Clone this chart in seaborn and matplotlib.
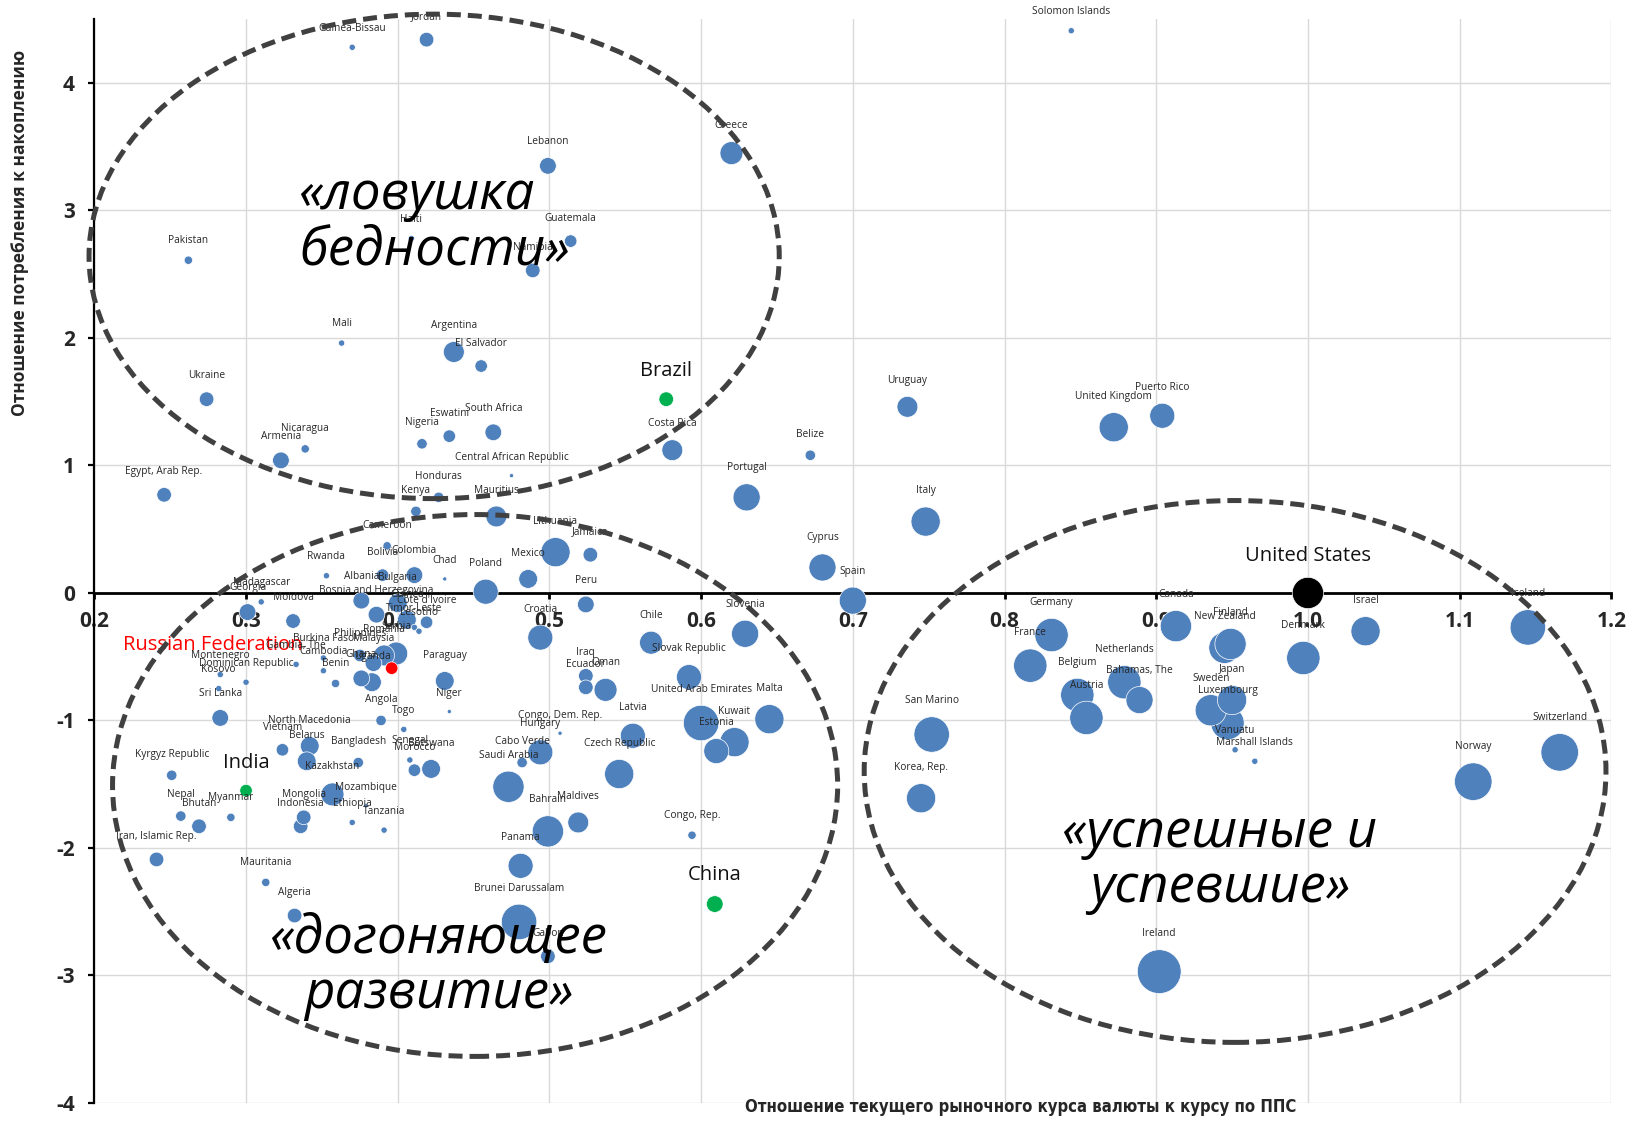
import numpy as np
import pandas as pd
import matplotlib
matplotlib.use("Agg")
import matplotlib.pyplot as plt
import seaborn as sns
from matplotlib.patches import Ellipse

# ---------------- data ----------------
countries = [
    "Solomon Islands", "Guinea-Bissau", "Jordan", "Lebanon", "Greece", "Guatemala", "Haiti",
    "Namibia", "Pakistan", "Mali", "Argentina", "El Salvador", "Ukraine", "Brazil", "Uruguay",
    "United Kingdom", "Puerto Rico", "Belize", "Costa Rica", "South Africa", "Eswatini", "Nigeria",
    "Central African Republic", "Nicaragua", "Armenia", "Egypt, Arab Rep.", "Honduras", "Kenya",
    "Mauritius", "Cameroon", "Lithuania", "Jamaica", "Mexico", "Peru", "Poland", "Chad",
    "Colombia", "Bolivia", "Rwanda", "Albania", "Bulgaria", "Bosnia and Herzegovina", "Guinea",
    "Paraguay", "Cote d'Ivoire", "Timor-Leste", "Lesotho", "Serbia", "Romania", "Malaysia",
    "Philippines", "Uganda", "Ghana", "Russian Federation", "Gambia, The", "Burkina Faso",
    "Cambodia", "Benin", "Montenegro", "Dominican Republic", "Kosovo", "Niger", "Sri Lanka",
    "Kyrgyz Republic", "Myanmar", "Nepal", "Bhutan", "India", "Iran, Islamic Rep.", "Mauritania",
    "Algeria", "Indonesia", "Mongolia", "Vietnam", "North Macedonia", "Belarus", "Bangladesh",
    "Kazakhstan", "Mozambique", "Ethiopia", "Tanzania", "Angola", "Togo", "Senegal", "Morocco",
    "Botswana", "Croatia", "Chile", "Slovak Republic", "Iraq", "Ecuador", "Oman",
    "United Arab Emirates", "Estonia", "Kuwait", "Malta", "Latvia", "Czech Republic",
    "Congo, Dem. Rep.", "Hungary", "Cabo Verde", "Saudi Arabia", "Bahrain", "Maldives", "Panama",
    "Brunei Darussalam", "Gabon", "Congo, Rep.", "China", "Portugal", "Italy", "Cyprus", "Spain",
    "Slovenia", "Canada", "Germany", "France", "Belgium", "Austria", "Netherlands", "Bahamas, The",
    "New Zealand", "Finland", "Japan", "Sweden", "Luxembourg", "Vanuatu", "Marshall Islands",
    "Denmark", "United States", "Israel", "Iceland", "Switzerland", "Norway", "San Marino",
    "Korea, Rep.", "Ireland", "Madagascar", "Georgia", "Moldova",
]

fx_to_ppp = [
    0.844, 0.370, 0.419, 0.499, 0.620, 0.514, 0.409,
    0.489, 0.262, 0.363, 0.437, 0.455, 0.274, 0.577, 0.736,
    0.872, 0.904, 0.672, 0.581, 0.463, 0.434, 0.416,
    0.475, 0.339, 0.323, 0.246, 0.427, 0.412,
    0.465, 0.393, 0.504, 0.527, 0.486, 0.524, 0.458, 0.431,
    0.411, 0.390, 0.353, 0.376, 0.400, 0.386, 0.406,
    0.431, 0.419, 0.411, 0.414, 0.399, 0.391, 0.384,
    0.375, 0.383, 0.376, 0.396, 0.333, 0.351,
    0.351, 0.359, 0.283, 0.300, 0.282, 0.434, 0.283,
    0.251, 0.290, 0.257, 0.269, 0.300, 0.241, 0.313,
    0.332, 0.336, 0.338, 0.324, 0.342, 0.340, 0.374,
    0.357, 0.379, 0.370, 0.391, 0.389, 0.404, 0.408, 0.411,
    0.422, 0.494, 0.567, 0.592, 0.524, 0.524, 0.537,
    0.600, 0.610, 0.622, 0.645, 0.555, 0.546,
    0.507, 0.494, 0.482, 0.473, 0.499, 0.519, 0.481,
    0.480, 0.499, 0.594, 0.609, 0.630, 0.748, 0.680, 0.700,
    0.629, 0.913, 0.831, 0.817, 0.848, 0.854, 0.879, 0.889,
    0.945, 0.949, 0.950, 0.936, 0.947, 0.952, 0.965,
    0.997, 1.000, 1.038, 1.145, 1.166, 1.109, 0.752,
    0.745, 0.902, 0.310, 0.301, 0.331,
]

cons_to_inv = [
    4.41, 4.28, 4.34, 3.35, 3.45, 2.76, 2.78,
    2.53, 2.61, 1.96, 1.89, 1.78, 1.52, 1.52, 1.46,
    1.30, 1.39, 1.08, 1.12, 1.26, 1.23, 1.17,
    0.92, 1.13, 1.04, 0.77, 0.75, 0.64,
    0.60, 0.37, 0.32, 0.30, 0.11, -0.09, 0.01, 0.11,
    0.14, 0.14, 0.135, -0.06, -0.08, -0.17, -0.21,
    -0.69, -0.23, -0.27, -0.30, -0.475, -0.49, -0.55,
    -0.49, -0.70, -0.67, -0.59, -0.56, -0.51,
    -0.61, -0.71, -0.64, -0.70, -0.75, -0.93, -0.98,
    -1.43, -1.76, -1.75, -1.83, -1.55, -2.09, -2.27,
    -2.53, -1.83, -1.76, -1.23, -1.20, -1.32, -1.33,
    -1.58, -1.67, -1.80, -1.86, -1.00, -1.07, -1.31, -1.39,
    -1.38, -0.35, -0.39, -0.66, -0.65, -0.74, -0.76,
    -1.02, -1.24, -1.17, -0.99, -1.12, -1.42,
    -1.10, -1.25, -1.33, -1.52, -1.87, -1.80, -2.14,
    -2.58, -2.85, -1.90, -2.44, 0.75, 0.56, 0.20, -0.06,
    -0.32, -0.26, -0.33, -0.57, -0.80, -0.98, -0.70, -0.84,
    -0.43, -0.40, -0.84, -0.92, -1.02, -1.23, -1.32,
    -0.51, 0.00, -0.30, -0.27, -1.25, -1.48, -1.11,
    -1.61, -2.97, -0.07, -0.15, -0.22,
]

bubble_value = [
    9, 9, 49, 64, 121, 36, 9,
    49, 16, 9, 100, 36, 49, 49, 100,
    196, 144, 25, 100, 64, 36, 25,
    4, 16, 64, 49, 25, 25,
    100, 16, 196, 49, 81, 64, 144, 4,
    64, 36, 9, 64, 81, 64, 81,
    81, 36, 9, 9, 121, 100, 64,
    36, 81, 64, 36, 9, 9,
    9, 16, 9, 9, 9, 4, 64,
    25, 16, 25, 49, 36, 49, 16,
    49, 49, 49, 36, 81, 81, 25,
    121, 4, 9, 9, 25, 9, 9, 36,
    81, 144, 121, 144, 49, 49, 121,
    289, 144, 196, 196, 144, 196,
    4, 144, 25, 225, 225, 100, 144,
    289, 49, 16, 64, 169, 196, 169, 169,
    169, 225, 256, 256, 256, 256, 256, 169,
    225, 225, 196, 225, 256, 9, 9,
    256, 225, 196, 289, 324, 324, 289,
    196, 441, 9, 64, 49,
]

green_countries = ["Brazil", "India", "China"]
red_countries = ["Russian Federation"]
black_countries = ["United States"]

x_ticks = [0.2, 0.3, 0.4, 0.5, 0.6, 0.7, 0.8, 0.9, 1.0, 1.1, 1.2]
x_tick_labels = ["0.2", "0.3", "0.4", "0.5", "0.6", "0.7", "0.8", "0.9", "1.0", "1.1", "1.2"]
y_ticks = [-4, -3, -2, -1, 0, 1, 2, 3, 4]
y_tick_labels = ["-4", "-3", "-2", "-1", "0", "1", "2", "3", "4"]

cluster_names = ["«ловушка\nбедности»", "«догоняющее\nразвитие»", "«успешные и\nуспевшие»"]

x_title = "Отношение текущего рыночного курса валюты к курсу по ППС"
y_title = "Отношение потребления к накоплению"

# ---------------- frame ----------------
def group_of(name):
    if name in green_countries:
        return "green"
    if name in red_countries:
        return "red"
    if name in black_countries:
        return "black"
    return "base"

df = pd.DataFrame({"country": countries, "x": fx_to_ppp, "y": cons_to_inv, "w": bubble_value})
df["group"] = df["country"].map(group_of)
df = df.sort_values("w", ascending=False, kind="stable").reset_index(drop=True)

sns.set_style("white")
plt.rcParams["font.family"] = ["Open Sans", "DejaVu Sans"]

fig = plt.figure(figsize=(16.35, 11.25), dpi=100)
ax = fig.add_axes([0.0577, 0.0196, 0.9278, 0.9633])

wmin, wmax = min(bubble_value), max(bubble_value)
k = 2.256
smin, smax = k * wmin, k * wmax
palette = {"base": "#4f81bd", "green": "#00b050", "red": "#ff0000", "black": "#000000"}

sns.scatterplot(data=df, x="x", y="y", size="w", sizes=(smin, smax), size_norm=(wmin, wmax),
                hue="group", palette=palette, legend=False, edgecolor="white", linewidth=0.5,
                alpha=1.0, ax=ax, zorder=3)

ax.set_xlim(0.2, 1.2)
ax.set_ylim(-4, 4.5)

ax.set_xticks(x_ticks)
ax.set_xticklabels(x_tick_labels)
ax.set_yticks(y_ticks)
ax.set_yticklabels(y_tick_labels)
ax.grid(True, color="#d9d9d9", linewidth=1.0, zorder=0)
ax.set_axisbelow(True)

for s in ["top", "right"]:
    ax.spines[s].set_visible(False)
ax.spines["left"].set_color("black")
ax.spines["left"].set_linewidth(1.6)
ax.spines["bottom"].set_position(("data", 0))
ax.spines["bottom"].set_color("black")
ax.spines["bottom"].set_linewidth(2.0)
ax.spines["bottom"].set_zorder(2)

ax.tick_params(axis="x", direction="out", length=4, width=2, color="black", pad=9,
               labelsize=15, bottom=True)
ax.tick_params(axis="y", direction="out", length=4, width=1.6, color="black", pad=10,
               labelsize=15, left=True)
for lab in ax.get_xticklabels() + ax.get_yticklabels():
    lab.set_fontweight("bold")
ax.set_xlabel("")
ax.set_ylabel("")

# data labels
for _, row in df.iterrows():
    s = smin + (row["w"] - wmin) / (wmax - wmin) * (smax - smin)
    r_pt = np.sqrt(s) / 2.0
    name = row["country"]
    if row["group"] == "red":
        ax.annotate(name, (row["x"], row["y"]), xytext=(-64, 17), textcoords="offset points",
                    ha="right", va="center", fontsize=14.5, color="#ff0000", zorder=6)
    elif row["group"] in ("green", "black"):
        ax.annotate(name, (row["x"], row["y"]), xytext=(0, r_pt + 15), textcoords="offset points",
                    ha="center", va="center", fontsize=14.5, color="#111111", zorder=6)
    else:
        ax.annotate(name, (row["x"], row["y"]), xytext=(0, r_pt + 11.5), textcoords="offset points",
                    ha="center", va="center", fontsize=7.3, color="#262626", zorder=6)

# cluster ellipses
ell_style = dict(fill=False, edgecolor="#404040", linewidth=3.6, linestyle=(0, (2.8, 1.4)),
                 zorder=7, clip_on=False)
ax.add_patch(Ellipse((0.424, 2.64), 0.455, 3.80, **ell_style))
ax.add_patch(Ellipse((0.451, -1.51), 0.478, 4.25, **ell_style))
ax.add_patch(Ellipse((0.952, -1.40), 0.489, 4.25, **ell_style))

big = dict(fontsize=38, style="italic", weight="normal", color="black", zorder=8, linespacing=1.05)
ax.text(0.335, 2.90, cluster_names[0], ha="left", va="center", multialignment="left", **big)
ax.text(0.427, -2.93, cluster_names[1], ha="center", va="center", multialignment="center", **big)
ax.text(0.942, -2.10, cluster_names[2], ha="center", va="center", multialignment="center", **big)

fig.text(0.624, 0.008, x_title, ha="center", va="bottom", fontsize=12, fontweight="bold",
         family=["Liberation Sans Narrow", "DejaVu Sans"], stretch="condensed")
fig.text(0.0125, 0.793, y_title, ha="center", va="center", rotation=90, fontsize=12.5,
         fontweight="bold")

fig.savefig("out.png", dpi=100)
